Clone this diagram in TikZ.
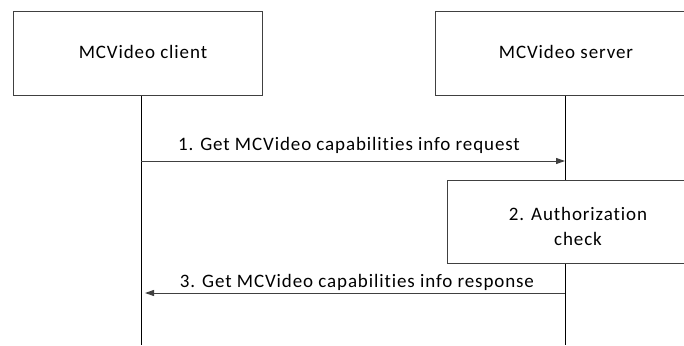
\documentclass[tikz,border=0pt]{standalone}
\usepackage{fontspec}
\setmainfont{Carlito}[LetterSpace=4.7,Ligatures=NoCommon]
\usetikzlibrary{arrows.meta}
\definecolor{ln}{HTML}{404040}
\begin{document}
\begin{tikzpicture}[x=1pt,y=-1pt,
  box/.style={draw=ln,line width=1pt,fill=white,inner sep=0pt},
  life/.style={draw=black,line width=1pt},
  msg/.style={draw=ln,line width=1pt,-{Triangle[length=9pt,width=6pt]}},
  lbl/.style={font=\fontsize{19}{23}\selectfont,inner sep=0pt,anchor=base}]
\useasboundingbox (0,0) rectangle (684,345);
\clip (0,0) rectangle (684,345);
\coordinate (cb) at (141,345);
\coordinate (sb) at (565,345);
\draw[life] (141,95) -- (cb);
\draw[life] (565,95) -- (sb);
\node[box,minimum width=249pt,minimum height=83pt] (client) at (137.5,53.5) {};
\node[lbl] (clientt) at (143,59) {MCVideo client};
\node[box,minimum width=260pt,minimum height=83pt] (server) at (565,53.5) {};
\node[lbl] (servert) at (566,59) {MCVideo server};
\node[box,minimum width=250pt,minimum height=83pt] (auth) at (572,221.5) {};
\node[lbl] (autht1) at (578,220) {2. Authorization};
\node[lbl] (autht2) at (578,245) {check};
\coordinate (m1s) at (141,161);
\coordinate (m1e) at (565,161);
\draw[msg] (m1s) -- (m1e);
\node[lbl] (m1t) at (349,150) {1. Get MCVideo capabilities info request};
\coordinate (m3s) at (565,293);
\coordinate (m3e) at (145,293);
\draw[msg] (m3s) -- (m3e);
\node[lbl] (m3t) at (357,287) {3. Get MCVideo capabilities info response};
\end{tikzpicture}
\end{document}
